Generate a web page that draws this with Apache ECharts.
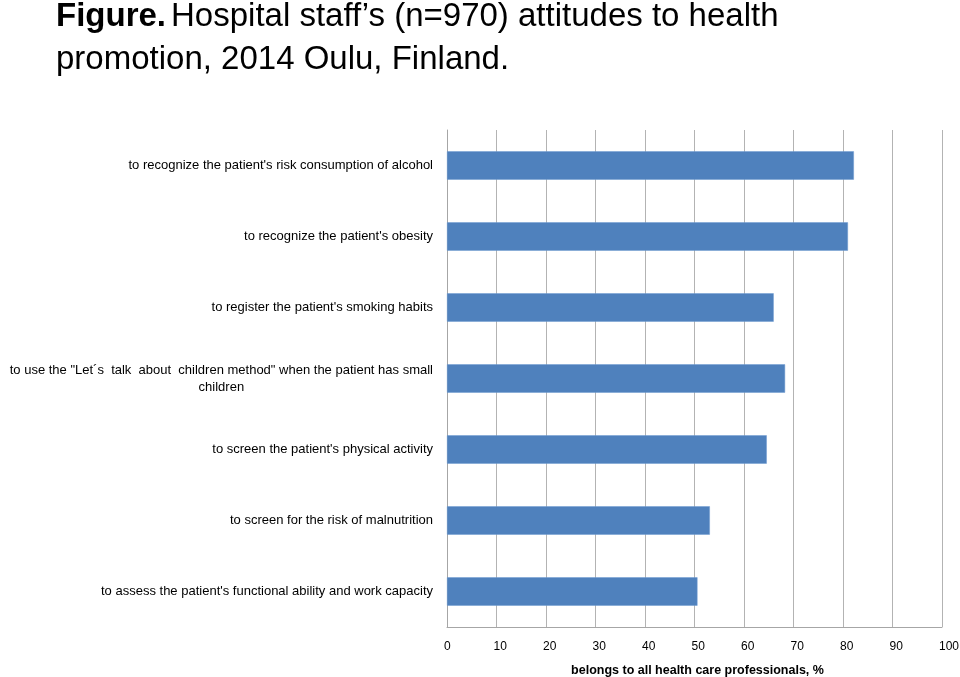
<!DOCTYPE html>
<html><head><meta charset="utf-8">
<script src="https://cdn.jsdelivr.net/npm/echarts@6/dist/echarts.min.js"></script>
<style>html,body{margin:0;padding:0;background:#fff}#c{width:960px;height:677px}</style>
</head><body><div id="c"></div>
<script>
const categories = [
  "to recognize the patient's risk consumption of alcohol",
  "to recognize the patient's obesity",
  "to register the patient's smoking habits",
  "to use the \"Let\u00b4s  talk  about  children method\" when the patient has small\nchildren",
  "to screen the patient's physical activity",
  "to screen for the risk of malnutrition",
  "to assess the patient's functional ability and work capacity"
];
const values = [82.2, 81.0, 66.0, 68.3, 64.6, 53.1, 50.6];
const xTicks = [0, 10, 20, 30, 40, 50, 60, 70, 80, 90, 100];

const chart = echarts.init(document.getElementById('c'));
chart.setOption({
  animation: false,
  backgroundColor: '#fff',
  title: {
    text: '{b|Figure.} {n|Hospital staff\u2019s (n=970) attitudes to health}\n{n|promotion, 2014 Oulu, Finland.}',
    left: 51, top: -10,
    textStyle: {
      fontWeight: 'normal',
      rich: {
        b: {fontFamily: 'Liberation Sans', fontWeight: 'bold', fontSize: 33, color: '#000', lineHeight: 43},
        n: {fontFamily: 'Liberation Sans', fontWeight: 'normal', fontSize: 33, color: '#000', lineHeight: 43}
      }
    }
  },
  grid: {left: 447, right: 18, top: 130, bottom: 50, containLabel: false, outerBoundsMode: 'none'},
  xAxis: {
    type: 'value', min: xTicks[0], max: xTicks[xTicks.length - 1], interval: 10,
    name: 'belongs to all health care professionals, %',
    nameLocation: 'middle', nameGap: 37,
    nameTextStyle: {fontFamily: 'Liberation Sans', fontWeight: 'bold', fontSize: 12.5, color: '#000', padding: [0, 0, 0, 6]},
    axisLine: {show: true, lineStyle: {color: '#a6a6a6', width: 1}},
    axisTick: {show: false},
    axisLabel: {
      margin: 14, align: 'center', fontFamily: 'Liberation Sans', fontSize: 12, color: '#000', hideOverlap: false,
      formatter: function (v) { return '{t|' + v + '}'; },
      rich: {t: {width: 6, align: 'left', fontFamily: 'Liberation Sans', fontSize: 12, color: '#000'}}
    },
    splitLine: {show: true, lineStyle: {color: '#b3b3b3', width: 1}}
  },
  yAxis: {
    type: 'category', data: categories, inverse: true,
    axisLine: {show: true, lineStyle: {color: '#a6a6a6', width: 1}},
    axisTick: {show: false},
    axisLabel: {
      margin: 14, fontFamily: 'Liberation Sans', fontSize: 13, color: '#000',
      formatter: function (v) {
        if (v.indexOf('\n') >= 0) {
          return v.split('\n').map(s => '{c|' + s + '}').join('\n');
        }
        return v;
      },
      rich: {c: {align: 'center', fontFamily: 'Liberation Sans', fontSize: 13, color: '#000', lineHeight: 17}}
    },
    splitLine: {show: false}
  },
  series: [{
    type: 'bar', data: values, barWidth: '40%',
    itemStyle: {color: '#4F81BD', borderColor: '#6f9bd0', borderWidth: 0.5}
  }]
});
</script></body></html>
